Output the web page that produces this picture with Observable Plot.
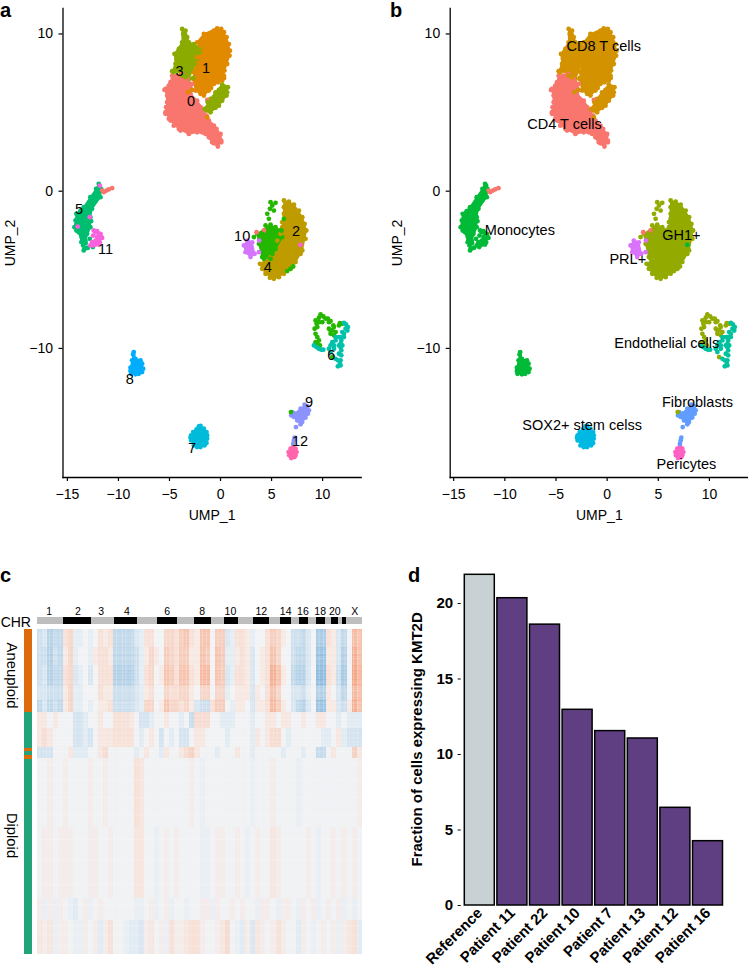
<!DOCTYPE html>
<html><head><meta charset="utf-8">
<script src="https://cdn.jsdelivr.net/npm/d3@7"></script>
<script src="https://cdn.jsdelivr.net/npm/@observablehq/plot@0.6"></script>
<style>
html,body{margin:0;padding:0;background:#fff}
#root{position:relative;width:748px;height:966px;overflow:hidden;font-family:"Liberation Sans",Arial,sans-serif}
.tag{position:absolute;font-weight:bold;font-size:20px;line-height:20px;color:#000}
</style></head><body><div id="root">
<div class="tag" style="left:0;top:0">a</div>
<div class="tag" style="left:390px;top:0">b</div>
<div class="tag" style="left:0;top:565px">c</div>
<div class="tag" style="left:408px;top:565px">d</div>
</div>
<script>
// ---------- UMAP clusters (UMP_1, UMP_2) ----------
const hull0=[[-4.74,7.35],[-3.76,7.46],[-2.78,6.82],[-2.94,6.19],[-2.29,5.76],[-1.63,5.13],[-1.14,4.49],[-0.65,4.17],[0,3.64],[0.07,3.22],[-0.26,2.84],[-0.82,3.11],[-1.47,3.64],[-2.29,3.75],[-3.1,3.64],[-4.08,3.96],[-4.9,4.49],[-5.39,5.02],[-5.23,5.66],[-5.39,6.5],[-4.9,6.93]];
const hull1=[[-2.29,9.47],[-1.63,10],[-0.33,10.36],[0.33,10.11],[0.82,9.36],[0.88,8.62],[0.39,7.67],[0.16,7.03],[-0.65,6.82],[-1.14,6.4],[-1.63,6.08],[-2.45,6.4],[-2.68,7.14],[-2.45,8.09],[-1.96,8.94]];
const hull3=[[-3.76,10.32],[-3.43,10.21],[-3.1,9.47],[-1.96,9.15],[-2.29,8.41],[-2.78,7.67],[-3.1,7.14],[-3.76,7.35],[-4.25,7.67],[-4.74,7.63],[-4.41,8.09],[-4.51,8.73],[-3.76,9.47]];
const hull3b=[[0.16,6.78],[0.72,6.61],[0.59,6.08],[-0.16,5.44],[-0.98,5.02],[-1.57,5.23],[-0.98,5.87],[-0.49,6.29]];
const hull2=[[6.21,-0.59],[7.19,-0.85],[8.01,-1.65],[8.4,-2.5],[8.01,-3.77],[7.35,-4.51],[6.21,-5.25],[5.23,-5.57],[4.41,-5.25],[3.86,-4.62],[4.9,-4.19],[5.56,-3.14],[6.05,-2.29],[6.21,-1.02]];
const hull4=[[3.59,-2.71],[4.9,-2.12],[5.72,-2.5],[6.05,-2.92],[5.39,-3.67],[4.9,-4.3],[4.08,-4.19],[3.76,-3.35]];
const hull10=[[2.61,-3.14],[3.1,-3.25],[3.33,-3.98],[2.94,-4.19],[2.45,-3.88],[2.29,-3.45]];
const hull5=[[-11.93,0.47],[-11.7,0.15],[-11.76,-0.38],[-12.58,-1.12],[-12.75,-1.65],[-12.75,-2.29],[-13.24,-3.14],[-13.4,-3.24],[-13.63,-3.24],[-13.89,-2.61],[-14.31,-2.29],[-14.12,-1.44],[-13.4,-1.02],[-12.75,-0.38],[-12.19,0.15]];
const hull8=[[-8.5,-10.23],[-8.33,-10.66],[-7.84,-10.76],[-7.58,-11.29],[-8.01,-11.61],[-8.76,-11.61],[-8.82,-11.23],[-8.66,-10.76]];
const hull7=[[-1.96,-14.93],[-1.37,-15.32],[-1.31,-15.74],[-1.57,-16.17],[-2.29,-16.27],[-2.88,-15.85],[-2.88,-15.53],[-2.35,-15.15]];
const hull9=[[8.24,-13.58],[8.66,-13.94],[8.33,-14.4],[7.84,-14.83],[7.52,-14.58],[6.93,-14.26],[7.03,-14.05],[7.68,-14.05]];
const hull12=[[7.12,-16.21],[7.45,-16.59],[7.25,-16.91],[6.93,-16.97],[6.67,-16.59]];
const extra0=[[-11.6,0.04],[-11.18,0.04],[-10.62,0.19],[-11.44,-0.06],[-10.95,0.11],[3.53,-2.61],[4.25,-2.5],[-1.3,5.8],[-5.07,6.72],[-5.49,6.44],[-5.23,6.08],[-5.07,5.76],[-5.33,5.34],[-5.39,4.92],[-5.07,4.6],[-4.58,4.17],[-3.92,3.86],[-3.1,3.69],[-2.45,3.86],[-1.8,3.75],[-1.14,3.43],[-0.65,3.05],[0.07,3.11],[-0.07,3.54],[-0.39,3.96],[-0.98,4.28],[-1.37,4.81],[-1.96,5.34],[-2.94,6.08],[-4.25,7.35],[-3.27,7.14],[-2.78,6.44]];
const extra1=[[-3.2,6.3],[-2.8,6.45],[0.35,7.2],[-1.3,4.7],[-1.96,9.26],[-1.14,9.89],[-0.65,10.21],[0.07,10.32],[0.59,9.79],[0.92,8.94],[0.65,8.09],[0.33,7.35],[-0.26,6.93],[-0.92,6.57],[-1.96,6.19],[-2.29,6.65],[-2.61,7.56],[-2.29,8.52]];
const extra2=[[6.7,-0.66],[7.68,-1.23],[8.24,-2.08],[8.33,-3.03],[7.84,-3.98],[6.86,-4.94],[5.72,-5.47],[4.84,-5.51],[4.08,-4.94],[6.21,-1.44],[6.05,-1.97],[5.88,-2.71]];
const extra3=[[-3.66,10],[-3.27,9.79],[-2.61,9.36],[-2.03,8.83],[-2.55,8.09],[-4.31,8.41],[-4.08,9.05],[-4.58,7.56],[-3.43,7.25],[-2.68,7.2],[0.39,6.65],[0.65,6.29],[0.16,5.76],[-0.49,5.3],[-1.31,5.13],[-1.24,5.66],[-0.65,5.97],[-0.16,6.44]];
const extra4=[[4.9,-0.7],[5.39,-0.74],[4.84,-1.12],[5.23,-1.23],[4.74,-1.76],[4.58,-1.44],[5.07,-0.91],[6.86,-4.94],[6.54,-5.08],[7.12,-4.79],[6.21,-1.76],[5.98,-2.5],[3.27,-2.92],[4.08,-2.71],[4.41,-2.18],[5.39,-2.29],[5.07,-3.98],[4.25,-4.3],[9.8,-7.84],[10.29,-8.11],[10.78,-8.26],[11.05,-8.54],[11.27,-8.96],[10.78,-9.07],[10.62,-8.75],[9.97,-8.33],[9.41,-8.43],[9.22,-8.75],[9.48,-9.28],[9.48,-9.7],[9.74,-9.81],[11.6,-8.54],[11.93,-8.43],[9.64,-8.05],[9.31,-8.22],[10.62,-8.33],[10.95,-8.85],[10.95,-10.55],[6.9,-14.05],[10.07,-7.97],[10.52,-8.11],[9.64,-8.33],[9.48,-8.64],[9.31,-9.07],[9.64,-9.49],[9.31,-9.6],[10.78,-8.86],[11.11,-8.64],[11.11,-9.17],[11.7,-8.39]];
const extra5=[[-12.81,-3.03],[-12.5,-3.55],[-13.1,-3.6],[-11.99,-0.06],[-12.25,-0.59],[-13,-1.12],[-13.73,-1.27],[-14.2,-1.86],[-14.12,-2.5],[-13.56,-2.82],[-13.46,-3.45],[-12.68,-1.91],[-13.07,-2.71],[-13,-3.6],[-13.33,-3.67],[-13.4,-3.77],[-13.2,-3.3]];
const extra6=[[12.09,-8.37],[12.48,-8.64],[12.09,-9.07],[11.83,-9.49],[11.76,-9.92],[11.83,-10.44],[11.7,-10.97],[11.5,-11.14],[11.27,-10.66],[10.62,-10.02],[10.95,-9.6],[11.6,-9.28],[9.15,-9.81],[9.64,-10.02],[10.07,-10.08],[12.25,-8.75],[11.27,-9.49],[11.11,-9.81],[11.93,-8.96],[11.76,-10.76],[11.83,-10.13],[11.76,-9.7],[12.29,-8.47],[12.42,-8.86],[11.76,-9.28],[11.27,-9.28],[10.78,-9.81],[10.78,-10.23],[11.11,-10.02],[11.6,-9.81],[11.93,-9.81],[11.6,-10.34],[11.5,-10.76],[11.76,-11.08],[9.41,-9.92],[9.87,-10.08],[12.09,-9.28]];
const extra7=[[-1.63,-15.11],[-1.31,-15.53],[-1.37,-16.02],[-1.96,-16.27],[-2.61,-16.17],[-2.94,-15.68],[-2.68,-15.32],[-2.12,-14.96]];
const extra8=[[-8.56,-10.38],[-8.43,-10.87],[-7.68,-10.97],[-7.68,-11.5],[-8.33,-11.65],[-8.82,-11.44]];
const extra9=[[7.39,-15],[7.25,-15.68],[7.12,-16.06],[7.19,-15.85],[8.5,-13.69],[8.56,-14.15],[8,-14.68],[7.19,-14.36],[7.84,-13.83]];
const extra10=[[3.79,-3.14],[3.76,-3.88]];
const extra11=[[-12.42,-2.5],[-12.09,-2.54],[-11.76,-2.71],[-11.6,-2.97],[-11.83,-3.24],[-12.25,-3.39],[-12.75,-3.45],[-12.48,-2.82],[-12.09,-2.92],[-12.25,-3.14],[-12.58,-3.24],[-11.93,-3.03],[-12.81,-1.65],[-13.99,-2.25],[-11.83,0.36],[7.84,-3.41],[-12.25,-2.61],[-11.93,-2.71],[-11.7,-2.88],[-12.09,-3.24],[-12.48,-3.45],[-11.93,-3.39]];
const extra12=[[6.86,-16.38],[7.35,-16.38],[7.35,-16.8],[6.73,-16.8]];

const clusterIds=["0","1","2","3","4","5","6","7","8","9","10","11","12"];
const colorsA=["#F8766D","#E18A00","#BE9C00","#8CAB00","#24B700","#00BE70","#00C1AB","#00BBDA","#00ACFC","#8B93FF","#D575FE","#F962DD","#FF65AC"];
const colorsB=["#F8766D","#D39200","#93AA00","#D39200","#93AA00","#00BA38","#00C19F","#00B9E3","#00BA38","#619CFF","#DB72FB","#00BA38","#FF61C3"];
const hullGroups=[["0",hull0],["2",hull2],["4",hull4],["1",hull1],["3",hull3],["3",hull3b],["10",hull10],["5",hull5],["8",hull8],["7",hull7],["9",hull9],["12",hull12]];
const extraGroups=[["0",extra0],["1",extra1],["2",extra2],["3",extra3],["4",extra4],["5",extra5],["6",extra6],["7",extra7],["8",extra8],["9",extra9],["10",extra10],["11",extra11],["12",extra12]];
const labelsA=[["0",-2.88,5.7],["1",-1.41,7.82],["2",7.39,-2.56],["3",-4.02,7.63],["4",4.64,-4.87],["5",-13.86,-1.17],["6",10.85,-10.44],["7",-2.78,-16.37],["8",-8.89,-11.97],["9",8.66,-13.45],["10",2.12,-2.88],["11",-11.27,-3.73],["12",7.78,-15.93]];
const labelsB=[["CD8 T cells",-0.33,9.2],["CD4 T cells",-4.17,4.24],["Monocytes",-8.53,-2.5],["GH1+",7.26,-2.82],["PRL+",2.02,-4.33],["Endothelial cells",5.83,-9.68],["Fibroblasts",8.83,-13.45],["SOX2+ stem celss",-2.44,-14.9],["Pericytes",7.75,-17.35]];
const ticksX=[-15,-10,-5,0,5,10];
const ticksY=[-10,0,10];

// ---------- heat map, band x segment ----------
const bandEdges=[0,18,36,55.7,71,82.4,99,117.4,129,197.4,269,290.7,324.7];
const bandA1=[-3,-2,-5,-4,-4,2,3,-1,-1,0,-1,0,2,1,2,-4,-4,-4,-4,-2,-1,2,2,0,0,3,3,2,4,5,2,1,5,5,0,4,4,-2,-1,2,2,1,-1,0,0,2,4,3,1,0,-3,-3,-4,-2,0,-6,-6,2,1,-2,-4,0,6,5];
const bandA2=[-3,-3,-5,-3,-4,1,3,-1,0,0,-1,1,2,2,1,-4,-4,-4,-4,-3,-1,1,3,1,0,4,3,2,4,4,1,1,5,4,0,5,4,-1,-1,1,2,1,-2,0,1,2,5,3,0,0,-3,-4,-4,-2,0,-7,-7,1,1,-2,-5,0,7,5];
const bandA3=[-3,-2,-5,-4,-4,2,3,-2,-1,0,-2,0,2,2,2,-5,-5,-5,-5,-3,-1,2,3,0,1,5,4,2,5,5,2,1,6,6,0,5,4,-2,-1,2,2,1,-2,0,1,2,7,5,1,0,-4,-5,-5,-2,0,-8,-8,2,1,-3,-6,0,8,6];
const bandA4=[-2,-2,-3,-3,-3,1,3,-1,-1,0,0,0,2,1,1,-3,-3,-3,-3,-2,-1,1,2,0,0,3,2,2,3,3,1,0,3,3,0,3,3,-1,0,1,1,1,-2,1,0,2,5,3,0,0,-2,-2,-3,-1,0,-5,-5,1,0,-2,-4,0,6,5];
const bandA5=[-4,-2,-4,-3,-4,1,3,-1,-1,0,-1,0,1,1,2,-3,-3,-3,-3,-2,-1,3,3,0,1,5,3,3,2,3,1,-2,-3,-3,2,4,4,0,-1,1,1,0,-2,1,1,2,6,4,1,0,-2,-4,-5,-2,0,-7,-7,1,1,-2,-3,1,7,5];
const bandB1=[1,1,0,1,0,0,0,-2,-2,-1,0,0,1,0,0,1.5,1.5,1.5,1,0,-2,-2,-1,0,0,1,0,0,-1,0,-3,2,2,2,0,0,-1,-1,-1,0,0,0,-1,0,0,1,1,0,1,1,0,0,1,0,0,1,1,0,0,-1,0,-1,-1,-1];
const bandB2=[1,2,1,0,0,0,0,-2,-2,-1,-2,0,1,1,1,1.5,1.5,1.5,1.5,0,-1,0,1,0,-2,0,-1,0,-2,-2,0,1,1,0,0,0,0,-1,0,0,0,0,-1,1,0,1,2,2,0,-1,0,0,0,0,0,0,-1,-1,0,1,-1,-2,-2,-2];
const bandB3=[-2,-2,-2,0,0,0,1,-1,-1,-1,0,0,1,2,0,0,0,0,0,-1,0,1,0,0,-1,1,0,0,1,2,3,1,0,0,0,-1,0,0,0,1,0,0,-1,0,0,0,0,0,-1,0,0,0,-1,0,0,-3,-3,0,1,0,0,0,3,1];
const bandC1=[0,0,.5,0,0,.5,0,0,0,0,.5,0,0,.5,0,0,0,0,0,1.5,1,0,0,0,0,0,0,0,0,0,.5,0,-.5,0,0,0,0,0,0,0,0,0,-.5,0,0,0,.5,0,0,0,0,-.5,0,0,0,0,0,0,0,0,0,0,0,.5];
const bandC2=[0,.5,.5,0,.5,.5,.5,0,0,0,.5,.5,0,0,.5,0,0,0,0,1,1,0,0,-.5,0,.5,0,.5,0,0,0,0,-.5,-.5,0,.5,.5,0,0,.5,0,-.5,0,.5,0,0,1,.5,0,0,0,0,0,.5,0,-.5,0,0,.5,0,.5,0,.5,0];
const bandC3=[.5,-.5,.5,-.5,.5,0,-.5,-1,0,.5,-.5,0,.5,0,0,0,0,0,0,-.5,-.5,0,.5,-.5,0,.5,-.5,0,0,-.5,0,0,.5,.5,-.5,.5,0,0,.5,0,.5,0,0,-.5,.5,.5,0,-.5,.5,.5,0,-.5,.5,0,.5,-.5,0,.5,0,.5,-.5,0,-.5,0];
const bandC4=[1,.5,1,-.5,.5,.5,0,-.5,-.5,.5,0,.5,-1,.5,1.5,0,0,-.5,-1,-1,-1.5,.5,1,0,.5,-.5,1.5,.5,.5,1,1.5,1.5,.5,0,0,.5,1,2,0,-.5,-1,.5,-1.5,1,.5,0,.5,1.5,.5,0,0,-1,.5,0,-.5,0,.5,0,.5,-.5,.5,1,1.5,-1];
const bands=[bandA1,bandA2,bandA3,bandA4,bandA5,bandB1,bandB2,bandB3,bandC1,bandC2,bandC3,bandC4];
const streakRows=[1,2.5,4,5,6,7,8.5,9.5,11,12,13,14.5,16,17,19,20.5,22,23,24,26.5,28,29,30,32,33.5,35,36.5,38,39,40,42,43,45,46,47.5,49,51,52,53,54,57,58.5,60,61,62,64,65.5,67,69,72,73,74,75.5,77,78,79,81,86,90,94,97,103,108,112,115,122,135,150,168,185,210,230,255,275,296,305,316];
const streakCols=[.4,1.1,1.7,2.3,3.1,3.6,4.4,5.3,6.2,7.4,8.6,9.3,10.4,11.6,12.4,13.1,14.3,15.5,16.7,17.4,18.6,19.5,20.7,21.3,22.4,23.6,24.8,25.4,26.1,27.7,28.5,29.3,30.2,31.6,32.5,33.3,34.4,35.6,36.3,37.7,38.5,39.4,40.6,41.5,42.2,43.3,44.6,45.4,46.5,47.2,48.6,49.5,50.4,51.3,52.1,52.8,53.6,54.7,55.5,56.4,57.6,58.5,59.4,60.6,61.5,62.3,63.1];
const chrEdges=[0,5,10.53,15.13,19.6,23.68,27.5,30.92,34.2,36.84,39.6,42.63,45.66,47.9,50,51.7,53.42,55,56.78,57.96,59.34,60.13,60.92,64];
const chrLabels=["1","2","3","4","6","8","10","12","14","16","18","20","X"];
const chrLabelAt=[2.24,7.9,12.5,17.6,25.5,32.4,38,44.1,48.9,52.3,55.7,58.6,62.5];
const annotEdges=[0,82.4,118.7,121.2,125.7,129.4,324.7];
const annotKinds=["Aneuploid","Diploid","Aneuploid","Diploid","Aneuploid","Diploid"];

// ---------- bars ----------
const barNames=["Reference","Patient 11","Patient 22","Patient 10","Patient 7","Patient 13","Patient 12","Patient 16"];
const barValues=[21.9,20.35,18.6,12.96,11.55,11.06,6.47,4.26];

const FONT='"Liberation Sans",Arial,sans-serif';
const root=document.getElementById("root");
function place(svg,left,top){svg.style.position="absolute";svg.style.left=left+"px";svg.style.top=top+"px";root.appendChild(svg);}
const styleBase={fontFamily:FONT,fontSize:"14px",background:"transparent",color:"#000",overflow:"visible"};
const fmt=d=>d<0?"\u2212"+(-d):""+d;

function umap(palette,labels,o){
  const polys=hullGroups.flatMap(([c,h],i)=>h.map(p=>({c,g:i,x:p[0],y:p[1]})));
  const dots=[...hullGroups,...extraGroups].flatMap(([c,h])=>h.map(p=>({c,x:p[0],y:p[1]})));
  return Plot.plot({
    width:374,height:530,marginLeft:o.ml,marginRight:o.mr,marginTop:8,marginBottom:53,
    style:styleBase,
    x:{domain:o.xd},y:{domain:[-18.21,11.62]},
    color:{type:"ordinal",domain:clusterIds,range:palette},
    marks:[
      Plot.line(polys,{x:"x",y:"y",z:"g",fill:"c",stroke:"c",strokeWidth:1.5,curve:"linear-closed"}),
      Plot.dot(dots,{x:"x",y:"y",fill:"c",r:2.4}),
      Plot.text(labels,{x:d=>d[1],y:d=>d[2],text:d=>d[0],fontSize:14.5,fill:"#000"}),
      Plot.axisX({ticks:ticksX,tickSize:4,tickPadding:8,label:"UMP_1",labelAnchor:"center",labelArrow:"none",labelOffset:42,strokeWidth:1.2,tickFormat:fmt}),
      Plot.axisY({ticks:ticksY,tickSize:4,tickPadding:6,label:"UMP_2",labelAnchor:"center",labelArrow:"none",labelOffset:o.lo,strokeWidth:1.2,tickFormat:fmt}),
      Plot.frame({anchor:"left",strokeWidth:1.3}),
      Plot.frame({anchor:"bottom",strokeWidth:1.3})
    ]});
}
place(umap(colorsA,labelsA,{ml:62.5,mr:13.3,xd:[-15.43,13.78],lo:58}),0,0);
place(umap(colorsB,labelsB,{ml:75.7,mr:0,xd:[-15.34,13.82],lo:58}),374,0);

// heat map
const cells=bands.flatMap((b,i)=>b.map((v,k)=>({x1:k,x2:k+1,y1:bandEdges[i],y2:bandEdges[i+1],v})));
const chrSegs=chrEdges.slice(0,-1).map((e,i)=>({x1:e,x2:chrEdges[i+1],dark:i%2===1}));
const annot=annotKinds.map((k,i)=>({k,y1:annotEdges[i],y2:annotEdges[i+1]}));
const chrText=chrLabels.map((t,i)=>({t,x:chrLabelAt[i]}));
place(Plot.plot({
  width:374,height:366,margin:0,style:styleBase,
  x:{domain:[-7.36,66.42],axis:null},y:{domain:[336.7,-29.3],axis:null},
  color:{type:"linear",domain:[-8,-1,0,1,8],range:["#7FB3DA","#E1EBF3","#F1F2F4","#F7E6DF","#F59A74"]},
  marks:[
    Plot.rect(cells,{x1:"x1",x2:"x2",y1:"y1",y2:"y2",fill:"v",shapeRendering:"crispEdges"}),
    Plot.ruleX(streakCols,{y1:0,y2:324.7,stroke:"#F1F2F4",strokeOpacity:.4,strokeWidth:.8}),
    Plot.ruleY(streakRows,{x1:0,x2:64,stroke:"#fff",strokeOpacity:.35,strokeWidth:.7}),
    Plot.rect(chrSegs.filter(d=>!d.dark),{x1:"x1",x2:"x2",y1:()=>-12.6,y2:()=>-5,fill:"#BEBEBE",shapeRendering:"crispEdges"}),
    Plot.rect(chrSegs.filter(d=>d.dark),{x1:"x1",x2:"x2",y1:()=>-12.6,y2:()=>-5,fill:"#000",shapeRendering:"crispEdges"}),
    Plot.rect(annot.filter(d=>d.k==="Aneuploid"),{x1:()=>-2.56,x2:()=>-1.05,y1:"y1",y2:"y2",fill:"#DD6A0C",shapeRendering:"crispEdges"}),
    Plot.rect(annot.filter(d=>d.k==="Diploid"),{x1:()=>-2.56,x2:()=>-1.05,y1:"y1",y2:"y2",fill:"#22A37A",shapeRendering:"crispEdges"}),
    Plot.text(chrText,{x:"x",y:()=>-18.6,text:"t",fontSize:10.5,fill:"#000"}),
    Plot.text(["CHR"],{x:()=>-4.34,y:()=>-7.6,text:d=>d,fontSize:14,fill:"#000"}),
    Plot.text(["Aneuploid"],{x:()=>-5.05,y:()=>45.7,text:d=>d,rotate:90,fontSize:14.8,fill:"#000"}),
    Plot.text(["Diploid"],{x:()=>-5.05,y:()=>205.7,text:d=>d,rotate:90,fontSize:14.8,fill:"#000"})
  ]}),0,600);

// bars
const barRows=barNames.map((n,i)=>({n,v:barValues[i]}));
place(Plot.plot({
  width:374,height:406,marginLeft:86.7,marginRight:25.5,marginTop:12.8,marginBottom:61,style:{...styleBase,fontWeight:"bold"},
  x:{domain:barNames,paddingInner:.08,paddingOuter:0,align:0,insetLeft:3.6,round:false},
  y:{domain:[0,22]},
  marks:[
    Plot.barY(barRows.filter(d=>d.n==="Reference"),{x:"n",y:"v",fill:"#C8D2D4",stroke:"#000",strokeWidth:1.5}),
    Plot.barY(barRows.filter(d=>d.n!=="Reference"),{x:"n",y:"v",fill:"#5F3F82",stroke:"#000",strokeWidth:1.5}),
    Plot.axisX({tickSize:0,tickPadding:5,tickRotate:-45,label:null,fontSize:15,fontWeight:"bold"}),
    Plot.axisY({ticks:[0,5,10,15,20],tickSize:3,tickPadding:5,label:"Fraction of cells expressing KMT2D",labelAnchor:"center",labelArrow:"none",labelOffset:50,fontSize:15,fontWeight:"bold"})
  ]}),374,560);
</script></body></html>
